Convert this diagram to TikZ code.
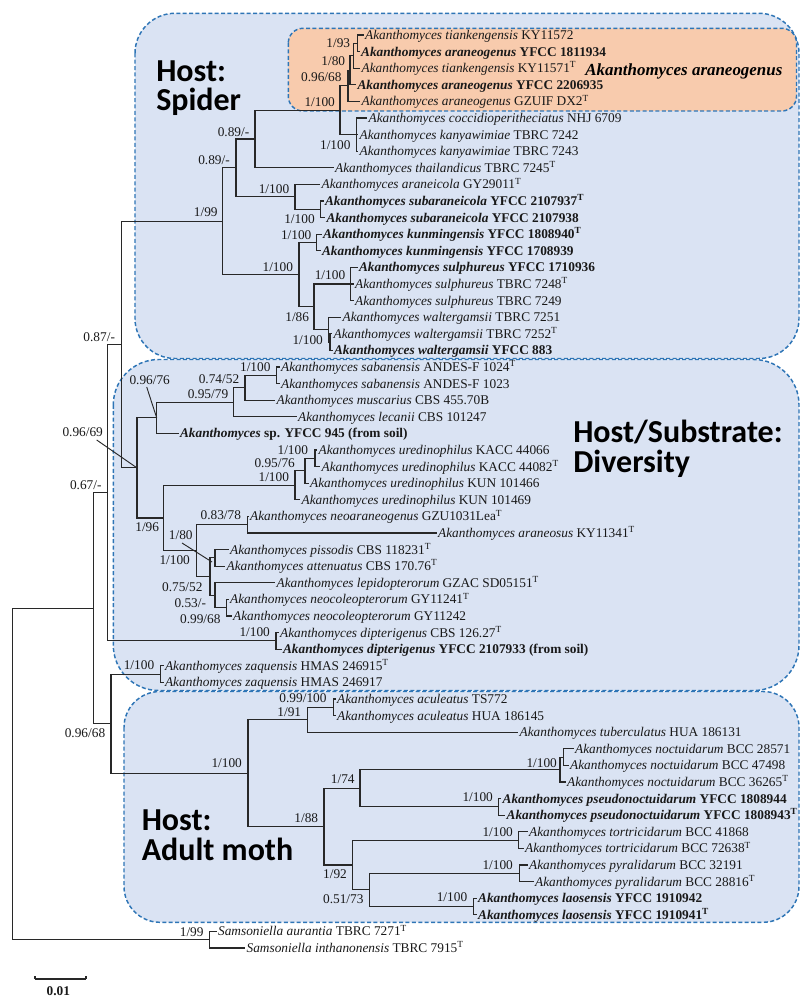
\documentclass[tikz,border=0pt]{standalone}
\usepackage{fontspec}
\setmainfont{Liberation Serif}
\newfontfamily\bigfont{Carlito}
\definecolor{bluef}{RGB}{218,227,243}
\definecolor{orangef}{RGB}{248,203,173}
\definecolor{dashc}{RGB}{46,117,182}
\definecolor{linec}{RGB}{40,40,40}
\newcommand{\tT}{\textsuperscript{T}}
\newcommand{\Ak}[1]{\textit{Akanthomyces #1}}
\newcommand{\AkB}[2]{\textbf{\textit{Akanthomyces #1} #2}}
\begin{document}
\begin{tikzpicture}[x=0.75pt,y=-0.75pt,
  br/.style={draw=linec, line width=0.8pt},
  tax/.style={anchor=west, inner sep=1pt, text=black!90, font=\fontsize{10}{12}\selectfont, text height=6.8pt, text depth=0pt},
  sup/.style={inner sep=0pt, text=black!90, font=\fontsize{10}{12}\selectfont, text height=6.8pt, text depth=0pt},
  clade/.style={draw=dashc, fill=bluef, dash pattern=on 3pt off 1.8pt, line width=1.1pt},
  big/.style={anchor=south west, inner sep=0pt, align=left, text depth=0pt},
]
\useasboundingbox (0,0) rectangle (801,998);

% clade boxes
\draw[clade, rounded corners=30pt] (135,13.3) rectangle (799,358.5);
\draw[clade, rounded corners=34pt] (113.3,359.5) rectangle (799,690.5);
\draw[clade, rounded corners=27pt] (124,691.5) rectangle (799,922.3);
\draw[clade, fill=orangef, rounded corners=11pt] (288.3,28.3) rectangle (796.5,111);

% big labels
\node[big, font=\bigfont\bfseries\fontsize{24}{22}\selectfont] (hs) at (156,111) {Host:\\Spider};
\node[big, font=\bigfont\bfseries\fontsize{24}{22.5}\selectfont] (hd) at (573,473) {Host/Substrate:\\Diversity};
\node[big, font=\bigfont\bfseries\fontsize{24}{23}\selectfont] (hm) at (141.5,861) {Host:\\Adult moth};
\node[anchor=base west, inner sep=0pt, font=\fontsize{12.7}{14}\selectfont] (ara) at (585,75.5) {\textbf{\textit{Akanthomyces araneogenus}}};

% taxa
\node[tax] (t0) at (363.5,35) {\Ak{tiankengensis} KY11572};
\node[tax] (t1) at (359.5,51.6) {\AkB{araneogenus}{YFCC 1811934}};
\node[tax] (t2) at (360,68.2) {\Ak{tiankengensis} KY11571\tT};
\node[tax] (t3) at (356,84.8) {\AkB{araneogenus}{YFCC 2206935}};
\node[tax] (t4) at (360,101.4) {\Ak{araneogenus} GZUIF DX2\tT};
\node[tax] (t5) at (367,118) {\Ak{coccidioperitheciatus} NHJ 6709};
\node[tax] (t6) at (358,134.6) {\Ak{kanyawimiae} TBRC 7242};
\node[tax] (t7) at (358,151.2) {\Ak{kanyawimiae} TBRC 7243};
\node[tax] (t8) at (333.5,167.8) {\Ak{thailandicus} TBRC 7245\tT};
\node[tax] (t9) at (320,184.4) {\Ak{araneicola} GY29011\tT};
\node[tax] (t10) at (323.5,201) {\AkB{subaraneicola}{YFCC 2107937\tT}};
\node[tax] (t11) at (325,217.6) {\AkB{subaraneicola}{YFCC 2107938}};
\node[tax] (t12) at (321.5,234.2) {\AkB{kunmingensis}{YFCC 1808940\tT}};
\node[tax] (t13) at (320.5,250.8) {\AkB{kunmingensis}{YFCC 1708939}};
\node[tax] (t14) at (357.5,267.4) {\AkB{sulphureus}{YFCC 1710936}};
\node[tax] (t15) at (353.5,284) {\Ak{sulphureus} TBRC 7248\tT};
\node[tax] (t16) at (353.5,300.6) {\Ak{sulphureus} TBRC 7249};
\node[tax] (t17) at (341,317.2) {\Ak{waltergamsii} TBRC 7251};
\node[tax] (t18) at (332,333.8) {\Ak{waltergamsii} TBRC 7252\tT};
\node[tax] (t19) at (332.5,350.4) {\AkB{waltergamsii}{YFCC 883}};
\node[tax] (t20) at (279.5,367) {\Ak{sabanensis} ANDES-F 1024\tT};
\node[tax] (t21) at (279.5,383.6) {\Ak{sabanensis} ANDES-F 1023};
\node[tax] (t22) at (275,400.2) {\Ak{muscarius} CBS 455.70B};
\node[tax] (t23) at (296.5,416.8) {\Ak{lecanii} CBS 101247};
\node[tax] (t24) at (178.5,433.4) {\textbf{\textit{Akanthomyces} sp. YFCC 945 (from soil)}};
\node[tax] (t25) at (317,450) {\Ak{uredinophilus} KACC 44066};
\node[tax] (t26) at (320,466.6) {\Ak{uredinophilus} KACC 44082\tT};
\node[tax] (t27) at (308.5,483.2) {\Ak{uredinophilus} KUN 101466};
\node[tax] (t28) at (300,499.8) {\Ak{uredinophilus} KUN 101469};
\node[tax] (t29) at (248.5,516.4) {\Ak{neoaraneogenus} GZU1031Lea\tT};
\node[tax] (t30) at (436.5,533) {\Ak{araneosus} KY11341\tT};
\node[tax] (t31) at (228.5,549.6) {\Ak{pissodis} CBS 118231\tT};
\node[tax] (t32) at (225,566.2) {\Ak{attenuatus} CBS 170.76\tT};
\node[tax] (t33) at (275,582.8) {\Ak{lepidopterorum} GZAC SD05151\tT};
\node[tax] (t34) at (228.5,599.4) {\Ak{neocoleopterorum} GY11241\tT};
\node[tax] (t35) at (231.5,616) {\Ak{neocoleopterorum} GY11242};
\node[tax] (t36) at (278.5,632.6) {\Ak{dipterigenus} CBS 126.27\tT};
\node[tax] (t37) at (281.5,649.2) {\AkB{dipterigenus}{YFCC 2107933 (from soil)}};
\node[tax] (t38) at (163.5,665.8) {\Ak{zaquensis} HMAS 246915\tT};
\node[tax] (t39) at (163.5,682.4) {\Ak{zaquensis} HMAS 246917};
\node[tax] (t40) at (335.5,699) {\Ak{aculeatus} TS772};
\node[tax] (t41) at (335.5,715.6) {\Ak{aculeatus} HUA 186145};
\node[tax] (t42) at (518,732.2) {\Ak{tuberculatus} HUA 186131};
\node[tax] (t43) at (573.5,748.8) {\Ak{noctuidarum} BCC 28571};
\node[tax] (t44) at (568.5,765.4) {\Ak{noctuidarum} BCC 47498};
\node[tax] (t45) at (565.5,782) {\Ak{noctuidarum} BCC 36265\tT};
\node[tax] (t46) at (501,798.6) {\AkB{pseudonoctuidarum}{YFCC 1808944}};
\node[tax] (t47) at (505,815.2) {\AkB{pseudonoctuidarum}{YFCC 1808943\tT}};
\node[tax] (t48) at (527.5,831.8) {\Ak{tortricidarum} BCC 41868};
\node[tax] (t49) at (523.5,848.4) {\Ak{tortricidarum} BCC 72638\tT};
\node[tax] (t50) at (527.5,865) {\Ak{pyralidarum} BCC 32191};
\node[tax] (t51) at (533.5,881.6) {\Ak{pyralidarum} BCC 28816\tT};
\node[tax] (t52) at (476.5,898.2) {\AkB{laosensis}{YFCC 1910942}};
\node[tax] (t53) at (476.5,914.8) {\AkB{laosensis}{YFCC 1910941\tT}};
\node[tax] (t54) at (216.5,931.4) {\textit{Samsoniella aurantia} TBRC 7271\tT};
\node[tax] (t55) at (245,948) {\textit{Samsoniella inthanonensis} TBRC 7915\tT};

% internal nodes
\coordinate (nA1) at (357.5,43.3);
\coordinate (nA2) at (353.3,55.75);
\coordinate (nA3) at (350,70.3);
\coordinate (nA4) at (348,85.85);
\coordinate (nK) at (356.7,134.6);
\coordinate (nB) at (340,110.2);
\coordinate (nC) at (255,139);
\coordinate (nF) at (320.7,209.3);
\coordinate (nE) at (295,196.85);
\coordinate (nD) at (236,167.9);
\coordinate (nI) at (316.7,242.5);
\coordinate (nL) at (350.7,284);
\coordinate (nN) at (330,342.1);
\coordinate (nM) at (328.3,329.65);
\coordinate (nJ) at (314,306.8);
\coordinate (nH) at (299,274.65);
\coordinate (nG) at (222.7,221.3);
\coordinate (nV) at (276.7,375.3);
\coordinate (nU) at (245,387.75);
\coordinate (nT) at (233.3,402.3);
\coordinate (nR) at (156.7,417.85);
\coordinate (nX3) at (315,458.3);
\coordinate (nX2) at (305,470.75);
\coordinate (nX) at (295,485.3);
\coordinate (nZ1) at (247.3,524.7);
\coordinate (nPA) at (215,557.9);
\coordinate (nN2) at (226.7,607.7);
\coordinate (nZ3) at (215,595.25);
\coordinate (nZ2) at (210,576.6);
\coordinate (nY) at (196.7,550.65);
\coordinate (nS) at (163.5,518);
\coordinate (nQ) at (137,467.9);
\coordinate (nP) at (121.7,344.6);
\coordinate (nDP) at (276,640.9);
\coordinate (nO) at (107.7,492.75);
\coordinate (nZQ) at (160.7,674.1);
\coordinate (nAC) at (333.3,707.3);
\coordinate (nDD) at (307.3,719.75);
\coordinate (nHP) at (563.3,757.1);
\coordinate (nHH) at (560,769.55);
\coordinate (nII) at (498.3,806.9);
\coordinate (nFF) at (360,788.2);
\coordinate (nTT) at (518.3,840.1);
\coordinate (nPY) at (519.3,873.3);
\coordinate (nLA) at (473.3,906.5);
\coordinate (nJJ) at (369.3,889.9);
\coordinate (nGG) at (352.7,865);
\coordinate (nEE) at (324,826.6);
\coordinate (nCC) at (248,773.2);
\coordinate (nBB) at (111,723.65);
\coordinate (nAA) at (93.3,608.2);
\coordinate (nSA) at (209.3,939.7);
\coordinate (nRT) at (12.7,774);

% branches
\foreach \p/\c in {nA1/t0.west,nA1/t1.west,nA2/nA1,nA2/t2.west,nA3/nA2,nA3/t3.west,nA4/nA3,nA4/t4.west,
  nK/t5.west,nK/t6.west,nK/t7.west,nB/nA4,nB/nK,nC/nB,nC/t8.west,nF/t10.west,nF/t11.west,nE/t9.west,nE/nF,
  nD/nC,nD/nE,nI/t12.west,nI/t13.west,nL/t14.west,nL/t15.west,nL/t16.west,nN/t18.west,nN/t19.west,
  nM/t17.west,nM/nN,nJ/nL,nJ/nM,nH/nI,nH/nJ,nG/nD,nG/nH,
  nV/t20.west,nV/t21.west,nU/nV,nU/t22.west,nT/nU,nT/t23.west,nR/nT,nR/t24.west,
  nX3/t25.west,nX3/t26.west,nX2/nX3,nX2/t27.west,nX/nX2,nX/t28.west,nZ1/t29.west,nZ1/t30.west,
  nPA/t31.west,nPA/t32.west,nN2/t34.west,nN2/t35.west,nZ3/t33.west,nZ3/nN2,nZ2/nPA,nZ2/nZ3,
  nY/nZ1,nY/nZ2,nS/nX,nS/nY,nQ/nR,nQ/nS,nP/nG,nP/nQ,nDP/t36.west,nDP/t37.west,nO/nP,nO/nDP,
  nZQ/t38.west,nZQ/t39.west,nAC/t40.west,nAC/t41.west,nDD/nAC,nDD/t42.west,
  nHP/t43.west,nHP/t44.west,nHH/nHP,nHH/t45.west,nII/t46.west,nII/t47.west,nFF/nHH,nFF/nII,
  nTT/t48.west,nTT/t49.west,nPY/t50.west,nPY/t51.west,nLA/t52.west,nLA/t53.west,nJJ/nPY,nJJ/nLA,
  nGG/nTT,nGG/nJJ,nEE/nFF,nEE/nGG,nCC/nDD,nCC/nEE,nBB/nZQ,nBB/nCC,nAA/nO,nAA/nBB,
  nSA/t54.west,nSA/t55.west,nRT/nAA,nRT/nSA}
  {\draw[br] (\p) |- (\c);}

% support values
\node[sup] (s1) at (338.3,43.3) {1/93};
\node[sup] (s2) at (333.3,60.7) {1/80};
\node[sup] (s3) at (321.3,77.3) {0.96/68};
\node[sup] (s4) at (319.7,101.7) {1/100};
\node[sup] (s5) at (233.5,131.7) {0.89/-};
\node[sup] (s6) at (214,160) {0.89/-};
\node[sup] (s7) at (335.3,145) {1/100};
\node[sup] (s8) at (274,189) {1/100};
\node[sup] (s9) at (299.5,219) {1/100};
\node[sup] (s10) at (205.8,212.3) {1/99};
\node[sup] (s11) at (296.2,235) {1/100};
\node[sup] (s12) at (277.8,266.7) {1/100};
\node[sup] (s13) at (330,275) {1/100};
\node[sup] (s14) at (297.2,316.7) {1/86};
\node[sup] (s15) at (307.7,340) {1/100};
\node[sup] (s16) at (99.2,337.3) {0.87/-};
\node[sup] (s17) at (255.3,367.3) {1/100};
\node[sup] (s18) at (219,379) {0.74/52};
\node[sup] (s19) at (208,394) {0.95/79};
\node[sup] (s20) at (149.7,380) {0.96/76};
\node[sup] (s21) at (82.7,431.7) {0.96/69};
\node[sup] (s22) at (292.8,450) {1/100};
\node[sup] (s23) at (274.7,463.3) {0.95/76};
\node[sup] (s24) at (273.8,477.3) {1/100};
\node[sup] (s25) at (85.8,485) {0.67/-};
\node[sup] (s26) at (220.8,515) {0.83/78};
\node[sup] (s27) at (147.2,526.7) {1/96};
\node[sup] (s28) at (180.8,535) {1/80};
\node[sup] (s29) at (174.7,560) {1/100};
\node[sup] (s30) at (182.3,586.7) {0.75/52};
\node[sup] (s31) at (190.3,603.3) {0.53/-};
\node[sup] (s32) at (200.3,619) {0.99/68};
\node[sup] (s33) at (254.7,631.7) {1/100};
\node[sup] (s34) at (139,665) {1/100};
\node[sup] (s35) at (303,698.3) {0.99/100};
\node[sup] (s36) at (289.3,711.7) {1/91};
\node[sup] (s37) at (85,733.3) {0.96/68};
\node[sup] (s38) at (226.7,763.3) {1/100};
\node[sup] (s39) at (342.8,779) {1/74};
\node[sup] (s40) at (306.3,818.3) {1/88};
\node[sup] (s41) at (541.7,763.3) {1/100};
\node[sup] (s42) at (477.7,796.7) {1/100};
\node[sup] (s43) at (497.7,831.7) {1/100};
\node[sup] (s44) at (335,874) {1/92};
\node[sup] (s45) at (497.7,865) {1/100};
\node[sup] (s46) at (343.3,899.3) {0.51/73};
\node[sup] (s47) at (452,897.3) {1/100};
\node[sup] (s48) at (191.7,931.7) {1/99};

% leader lines
\coordinate (lR) at (146.7,387);
\coordinate (lQ) at (96.7,440);
\coordinate (lPA) at (182,543);
\coordinate (ePA) at (212,562);
\draw[br, line width=0.7pt] (lR) -- (nR);
\draw[br, line width=0.7pt] (lQ) -- (nQ);
\draw[br, line width=0.7pt] (lPA) -- (ePA);

% scale bar
\coordinate (sb1) at (35,979);
\coordinate (sb2) at (86,979);
\draw[br] (sb1) -- (sb2);
\draw[br] (sb1) -- ++(0,-3.5);
\draw[br] (sb2) -- ++(0,-3.5);
\node[sup, font=\bfseries\fontsize{10}{12}\selectfont] (sbl) at (58.3,990.5) {0.01};
\end{tikzpicture}
\end{document}
